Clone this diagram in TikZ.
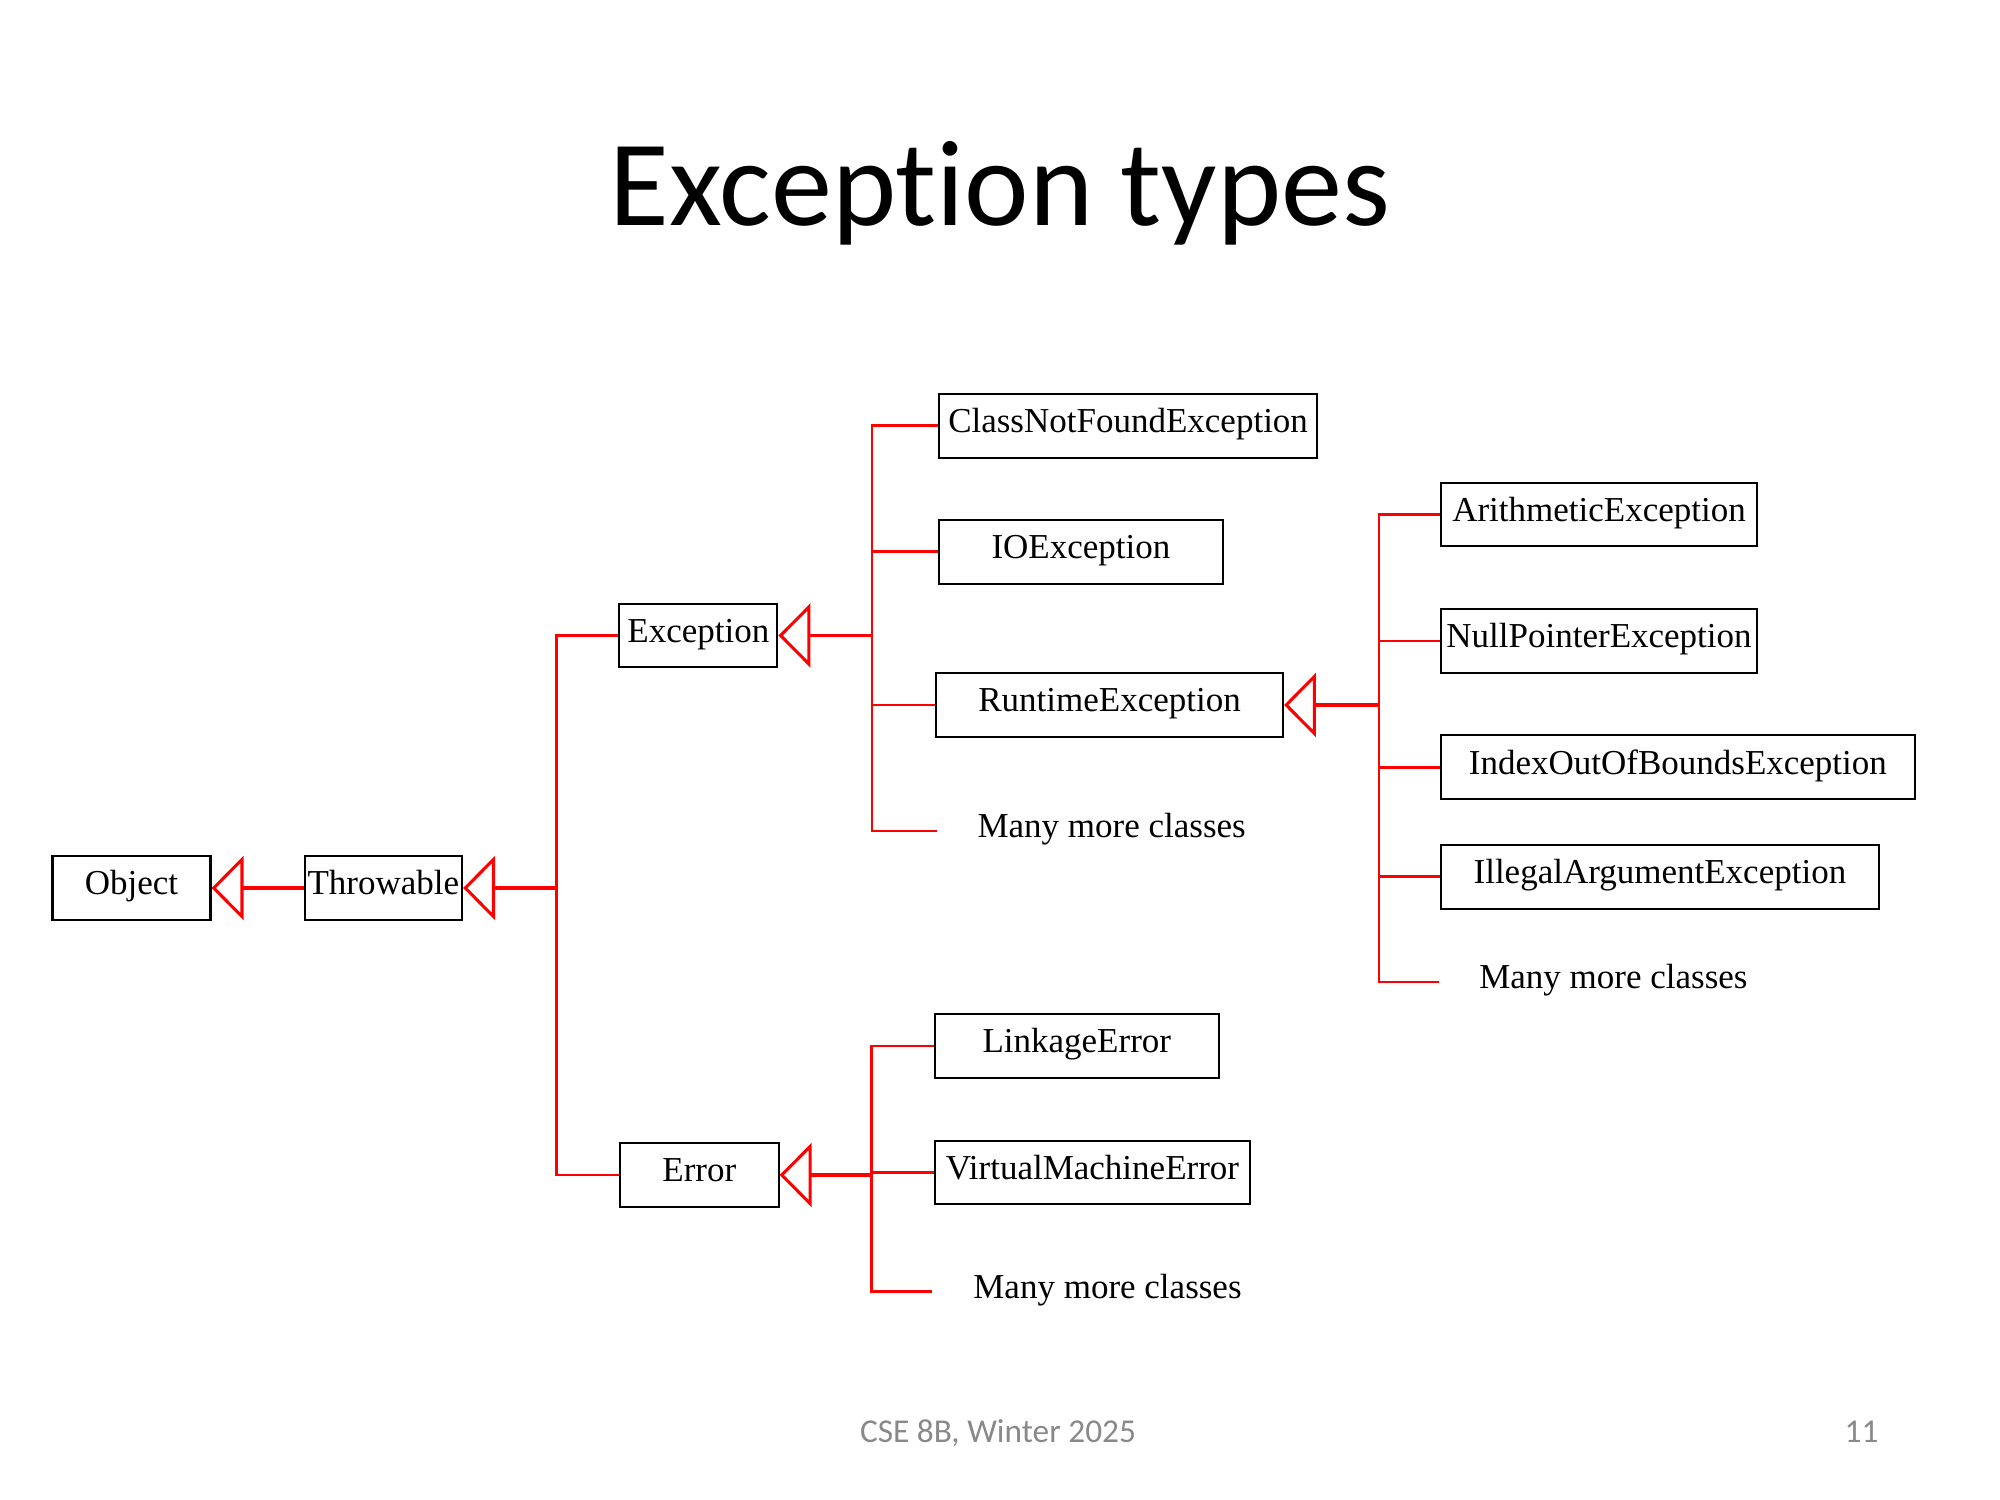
\documentclass[tikz,border=0pt]{standalone}
\usepackage{fontspec}
\setmainfont{Liberation Serif}
\newfontfamily\slidefont[RawFeature=-liga]{Carlito}
\usetikzlibrary{arrows.meta}
\definecolor{footgray}{HTML}{898989}
\begin{document}
\begin{tikzpicture}[x=0.36pt,y=-0.36pt,
  cls/.style={draw=black, line width=0.75pt, inner sep=0pt, minimum height=23pt,
    text height=8pt, text depth=3pt, font=\fontsize{12.6}{15}\selectfont},
  note/.style={anchor=base west, inner sep=0pt, font=\fontsize{12.6}{15}\selectfont},
  link/.style={draw=red, line width=1.0pt},
  inherit/.style={draw=red, line width=1.4pt,
    -{Triangle[open, length=11.5pt, width=23pt, line width=1.1pt]}},
]
\useasboundingbox (0,0) rectangle (2000,1500);

% title and footer
\node[anchor=base, inner sep=0pt, font=\slidefont\fontsize{44}{50}\selectfont] (title) at (1000,226) {Exception types};
\node[anchor=base, inner sep=0pt, text=footgray, font=\slidefont\fontsize{12}{14}\selectfont] (foot) at (998,1442) {CSE 8B, Winter 2025};
\node[anchor=base east, inner sep=0pt, text=footgray, font=\slidefont\fontsize{12}{14}\selectfont] (page) at (1879,1442) {11};

% class boxes
\node[cls, minimum width=56.9pt] (obj) at (131.5,888) {Object};
\node[cls, minimum width=56.7pt] (thr) at (383.3,888) {Throwable};
\node[cls, minimum width=56.9pt] (exc) at (698.4,635.5) {Exception};
\node[cls, minimum width=57.1pt] (err) at (699.3,1175) {Error};
\node[cls, minimum width=136.3pt] (cnf) at (1128.1,425.7) {ClassNotFoundException};
\node[cls, minimum width=102.3pt] (ioe) at (1080.9,551.8) {IOException};
\node[cls, minimum width=124.9pt] (rte) at (1109.5,705) {RuntimeException};
\node[cls, minimum width=102.2pt] (lnk) at (1076.8,1046) {LinkageError};
\node[cls, minimum width=113.5pt] (vme) at (1092.4,1172.5) {VirtualMachineError};
\node[cls, minimum width=113.7pt] (ari) at (1599,514.5) {ArithmeticException};
\node[cls, minimum width=113.8pt] (npe) at (1599,641) {NullPointerException};
\node[cls, minimum width=170.5pt] (iob) at (1677.9,767.2) {IndexOutOfBoundsException};
\node[cls, minimum width=157.7pt] (iae) at (1659.9,876.6) {IllegalArgumentException};

% open-ended subclasses
\node[note] (more1) at (977,837) {Many more classes};
\node[note] (more2) at (1478.7,988.6) {Many more classes};
\node[note] (more3) at (972.8,1298) {Many more classes};
\coordinate (m1) at (937,831);
\coordinate (m2) at (1438.7,982);
\coordinate (m3) at (931.7,1291.7);

% junctions on the trunks
\coordinate (j1) at (556.5,888);
\coordinate (j2) at (872,635.5);
\coordinate (j3) at (1379,705);
\coordinate (j4) at (871.4,1175);

% inheritance arrows
\draw[inherit, line width=1.1pt] (thr.west) -- (obj.east);
\draw[inherit, line width=1.1pt] (j1) -- (thr.east);
\draw[inherit] (j2) -- (exc.east);
\draw[inherit] (j3) -- (rte.east);
\draw[inherit] (j4) -- (err.east);

% trunks and branches
\draw[link] (j1) |- (exc.west);
\draw[link] (j1) |- (err.west);

\draw[link] (j2) |- (cnf.west);
\draw[link] (j2) |- (ioe.west);
\draw[link] (j2) |- (rte.west);
\draw[link] (j2) |- (m1);

\draw[link] (j3) |- (ari.west);
\draw[link] (j3) |- (npe.west);
\draw[link] (j3) |- (iob.west);
\draw[link] (j3) |- (iae.west);
\draw[link] (j3) |- (m2);

\draw[link] (j4) |- (lnk.west);
\draw[link] (j4) |- (vme.west);
\draw[link] (j4) |- (m3);
\end{tikzpicture}
\end{document}
